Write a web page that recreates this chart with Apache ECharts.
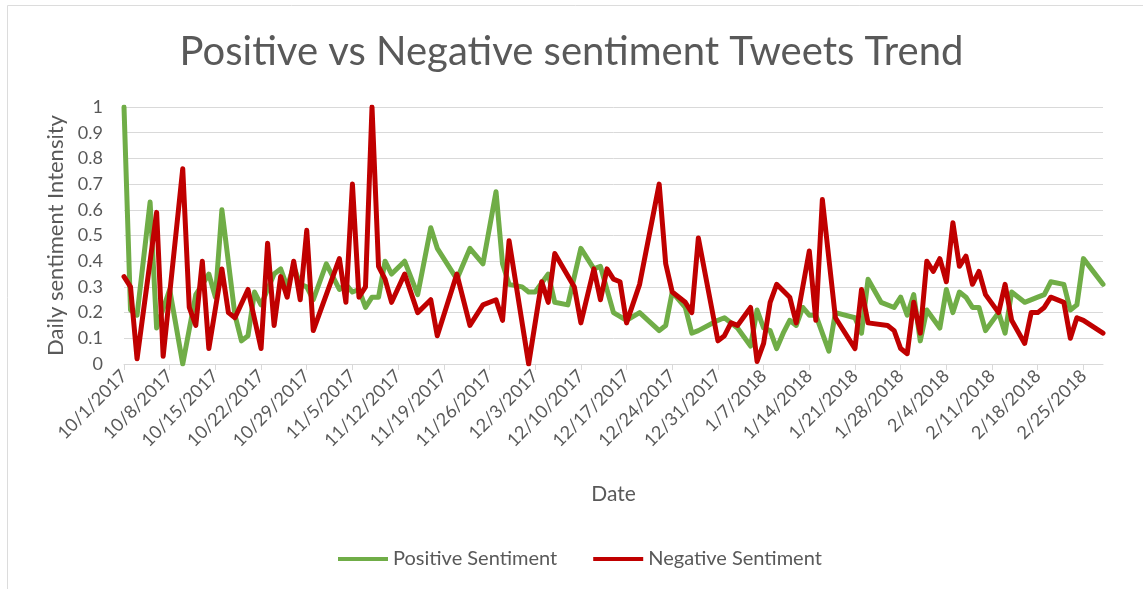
<!DOCTYPE html>
<html>
<head>
<meta charset="utf-8">
<title>Positive vs Negative sentiment Tweets Trend</title>
<script src="https://cdn.jsdelivr.net/npm/echarts@6/dist/echarts.min.js"></script>
<style>
  html, body { margin: 0; padding: 0; background: #ffffff; }
  #chart { width: 1143px; height: 589px; }
</style>
</head>
<body>
<div id="chart"></div>
<script>
// Daily series from 10/1/2017 through 2/28/2018 (one entry per day, null = no reading that day).
const startDate = [2017, 10, 1];
const dayCount = 151;

// Positive sentiment, one row per week
const positive = [
  1.00, 0.21, 0.19, null, 0.63, 0.14, null,
  0.29, null, 0.00, null, 0.27, null, 0.35,
  0.26, 0.60, null, 0.19, 0.09, 0.11, 0.28,
  0.23, null, 0.35, 0.37, 0.30, 0.38, 0.31,
  0.30, 0.25, null, 0.39, null, 0.29, 0.31,
  0.28, 0.29, 0.22, 0.26, 0.26, 0.40, 0.35,
  null, 0.40, null, 0.27, null, 0.53, 0.45,
  null, null, 0.33, null, 0.45, null, 0.39,
  null, 0.67, 0.39, 0.31, null, 0.30, 0.28,
  0.28, null, 0.35, 0.24, null, 0.23, null,
  0.45, null, 0.37, 0.38, null, 0.20, null,
  0.17, null, 0.20, null, null, 0.13, 0.15,
  0.28, null, 0.22, 0.12, 0.13, null, null,
  0.17, 0.18, null, 0.14, null, 0.07, 0.21,
  0.14, 0.13, 0.06, 0.12, 0.17, 0.15, 0.22,
  0.19, 0.19, null, 0.05, 0.20, null, null,
  0.18, 0.12, 0.33, null, 0.24, null, 0.22,
  0.26, 0.19, 0.27, 0.09, 0.21, null, 0.14,
  0.29, 0.20, 0.28, 0.26, 0.22, 0.22, 0.13,
  null, 0.20, 0.12, 0.28, null, 0.24, null,
  0.26, 0.27, 0.32, null, 0.31, 0.21, 0.23,
  0.41, null, null, 0.31
];

// Negative sentiment, one row per week
const negative = [
  0.34, 0.30, 0.02, null, null, 0.59, 0.03,
  null, null, 0.76, 0.22, 0.15, 0.40, 0.06,
  null, 0.37, 0.20, 0.18, null, 0.29, null,
  0.06, 0.47, 0.15, 0.34, 0.26, 0.40, 0.25,
  0.52, 0.13, null, null, null, 0.41, 0.24,
  0.70, 0.26, 0.30, 1.00, 0.38, 0.33, 0.24,
  null, 0.35, null, 0.20, null, 0.25, 0.11,
  null, null, 0.35, null, 0.15, null, 0.23,
  null, 0.25, 0.17, 0.48, null, null, 0.00,
  null, 0.32, 0.24, 0.43, null, null, 0.30,
  0.16, null, 0.37, 0.25, 0.37, 0.33, 0.32,
  0.16, null, 0.31, null, null, 0.70, 0.39,
  0.28, null, 0.24, 0.20, 0.49, null, null,
  0.09, 0.11, 0.16, 0.15, null, 0.22, 0.01,
  0.08, 0.24, 0.31, null, 0.26, 0.16, null,
  0.44, 0.17, 0.64, null, 0.18, null, null,
  0.06, 0.29, 0.16, null, null, 0.15, 0.13,
  0.06, 0.04, 0.24, 0.12, 0.40, 0.36, 0.41,
  0.32, 0.55, 0.38, 0.42, 0.31, 0.36, 0.27,
  null, 0.20, 0.31, 0.17, null, 0.08, 0.20,
  0.20, 0.22, 0.26, null, 0.24, 0.10, 0.18,
  0.17, null, null, 0.12
];

// Category labels in M/D/YYYY form, one per day
const dates = [];
(function buildDates() {
  const d = new Date(Date.UTC(startDate[0], startDate[1] - 1, startDate[2]));
  for (let i = 0; i < dayCount; i++) {
    dates.push((d.getUTCMonth() + 1) + '/' + d.getUTCDate() + '/' + d.getUTCFullYear());
    d.setUTCDate(d.getUTCDate() + 1);
  }
})();

const tickEvery = 7;
const textColor = '#595959';
const gridColor = '#d9d9d9';
const fontFamily = 'Lato, "Noto Sans", sans-serif';

const chart = echarts.init(document.getElementById('chart'), null, { renderer: 'canvas' });

chart.setOption({
  backgroundColor: '#ffffff',
  animation: false,
  textStyle: { fontFamily: fontFamily },
  title: {
    text: 'Positive vs Negative sentiment Tweets Trend',
    left: 'center',
    top: 27,
    textStyle: { fontFamily: fontFamily, fontSize: 40, fontWeight: 'normal', color: textColor }
  },
  graphic: [{
    type: 'rect',
    shape: { x: 7.5, y: 5.5, width: 1200, height: 650 },
    style: { fill: 'none', stroke: '#dcdcdc', lineWidth: 1 },
    silent: true,
    z: -1
  }],
  grid: { left: 124, right: 40, top: 107, bottom: 225, containLabel: false },
  legend: {
    bottom: 15,
    left: 333,
    icon: 'rect',
    itemWidth: 50,
    itemHeight: 4,
    itemGap: 36,
    textStyle: { fontFamily: fontFamily, fontSize: 20, color: textColor, padding: [0, 0, 0, 0] },
    data: ['Positive Sentiment', 'Negative Sentiment']
  },
  xAxis: {
    type: 'category',
    data: dates,
    boundaryGap: false,
    name: 'Date',
    nameLocation: 'middle',
    nameGap: 120,
    nameTextStyle: { fontFamily: fontFamily, fontSize: 21, color: textColor },
    axisLine: { lineStyle: { color: gridColor, width: 1 } },
    axisTick: {
      show: true,
      alignWithLabel: true,
      length: 6,
      lineStyle: { color: gridColor },
      interval: function (index) { return index % tickEvery === 0; }
    },
    axisLabel: {
      rotate: 45,
      color: textColor,
      fontFamily: fontFamily,
      fontSize: 18,
      margin: 9,
      interval: function (index) { return index % tickEvery === 0; }
    },
    splitLine: { show: false }
  },
  yAxis: {
    type: 'value',
    min: 0,
    max: 1,
    interval: 0.1,
    name: 'Daily sentiment Intensity',
    nameLocation: 'middle',
    nameGap: 56,
    nameTextStyle: { fontFamily: fontFamily, fontSize: 22, color: textColor },
    axisLine: { show: false },
    axisTick: { show: false },
    axisLabel: {
      color: textColor,
      fontFamily: fontFamily,
      fontSize: 18,
      margin: 21,
      formatter: function (v) { return String(+v.toFixed(1)); }
    },
    splitLine: { lineStyle: { color: gridColor, width: 1 } }
  },
  series: [
    {
      name: 'Positive Sentiment',
      type: 'line',
      data: positive,
      connectNulls: true,
      showSymbol: false,
      symbol: 'none',
      lineStyle: { color: '#70ad47', width: 5, join: 'round', cap: 'round' },
      itemStyle: { color: '#70ad47' },
      z: 2
    },
    {
      name: 'Negative Sentiment',
      type: 'line',
      data: negative,
      connectNulls: true,
      showSymbol: false,
      symbol: 'none',
      lineStyle: { color: '#c00000', width: 5, join: 'round', cap: 'round' },
      itemStyle: { color: '#c00000' },
      z: 3
    }
  ]
});
</script>
</body>
</html>
